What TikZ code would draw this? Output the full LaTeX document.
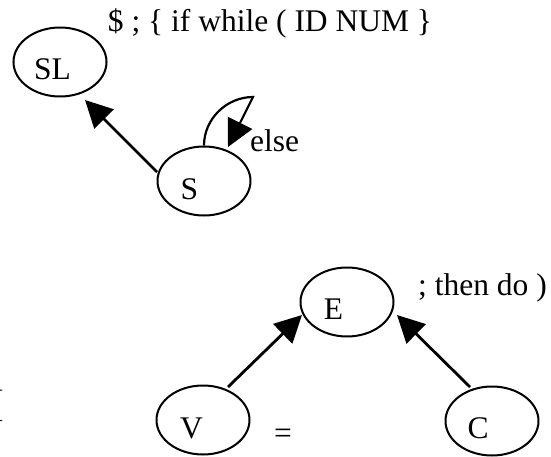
\documentclass[tikz,border=0pt]{standalone}
\usepackage{fontspec}
\setmainfont{Liberation Serif}
\usetikzlibrary{arrows.meta,shapes.geometric}
\tikzset{
  st/.style={draw, ellipse, line width=2pt, minimum width=93pt, minimum height=69pt, inner sep=0pt},
  lbl/.style={font=\fontsize{31.5}{38}\selectfont, inner sep=0pt, anchor=base},
  arr/.style={line width=2.8pt, -{Triangle[length=27pt,width=27pt]}},
}
\begin{document}
\begin{tikzpicture}[x=1pt,y=-1pt]
\useasboundingbox (0,0) rectangle (551,457);
% states
\node[st] (SL) at (60,62) {};
\node[st] (S) at (204,181) {};
\node[st] (E) at (347,302) {};
\node[st] (V) at (203,420) {};
\node[st] (C) at (492,421) {};
% state labels
\node[lbl] (SLt) at (52.5,80) {SL};
\node[lbl] (St) at (189.5,200) {S};
\node[lbl] (Et) at (333.5,319) {E};
\node[lbl] (Vt) at (191.5,438) {V};
\node[lbl] (Ct) at (478,438) {C};
% free texts
\node[lbl] (top) at (270,32) {\$ ; \{ if while ( ID NUM \}};
\node[lbl] (else) at (274.5,152) {else};
\node[lbl] (then) at (482.5,295) {; then do )};
\node[lbl] (eq) at (283,443) {=};
\node[lbl, font=\fontsize{38}{44}\selectfont, anchor=base west] (brk) at (-8.5,416) {[};
% connectors
\draw[arr] ([shift={(-47,-9)}]S.center) -- ([shift={(25,38)}]SL.center);
\draw[arr] ([shift={(25,-33)}]V.center) -- ([shift={(-45,13)}]E.center);
\draw[arr] ([shift={(-22,-34)}]C.center) -- ([shift={(50,13)}]E.center);
\coordinate (loopc) at (253,97);
\draw[arr, line width=2.2pt] (S.north) .. controls ([shift={(0,-26.5)}]S.north) and (226.5,97) .. (loopc) -- ([shift={(24,-34)}]S.center);
\end{tikzpicture}
\end{document}
